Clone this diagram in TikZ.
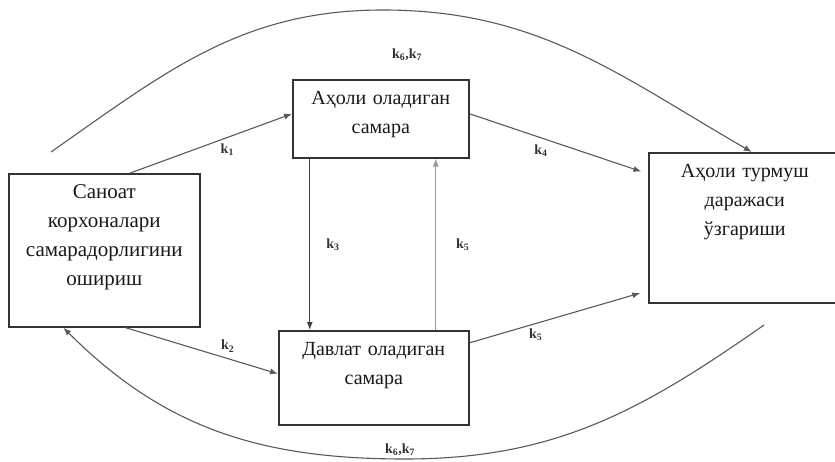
\documentclass[tikz,border=0pt]{standalone}
\usepackage{fontspec}
\setmainfont{Liberation Serif}
\usetikzlibrary{arrows.meta,positioning}
\tikzstyle{block}=[
	rectangle,
	draw=black!80,
	line width=1.6pt,
	align=center,
	anchor=north west,
	inner xsep=4pt,
	inner ysep=8pt,
	text height=17pt,
	text=black!90,
	font=\fontsize{20}{29}\selectfont
]
\tikzstyle{flow}=[
	-{Latex[length=8pt,width=6pt]},
	draw=black!65,
	line width=1.1pt
]
\tikzstyle{coef}=[
	inner sep=2pt,
	text=black!80,
	font=\fontsize{14}{14}\selectfont\bfseries
]

\begin{document}
\begin{tikzpicture}[x=1pt,y=1pt]
\useasboundingbox (0,0) rectangle (835,461);
\node [block, text width=183pt, text depth=120pt, font=\fontsize{21}{29}\selectfont] (Enterprise) at (8,288) {Саноат\\корхоналари\\самарадорлигини\\ошириш};
\node [block, text width=168pt, text depth=45pt] (PopulationGain) at (292,382) {Аҳоли оладиган\\самара};
\node [block, text width=182pt, text depth=61pt] (StateGain) at (278,131) {Давлат оладиган\\самара};
\node [block, text width=184pt, text depth=117pt] (LivingStandard) at (648,309) {Аҳоли турмуш\\даражаси\\ўзгариши};
\coordinate (TopStart) at (51,309);
\coordinate (TopPeak) at (383,451);
\coordinate (BottomStart) at (764,136);
\coordinate (BottomDip) at (405,2);

\draw [flow] ([xshift=26pt]Enterprise.north) -- ([yshift=5pt]PopulationGain.west)
	node [coef, pos=0.6, below=4pt] {k\textsubscript{1}};
\draw [flow] ([xshift=21pt]Enterprise.south) -- ([yshift=4pt]StateGain.west)
	node [coef, pos=0.67, above=4pt] {k\textsubscript{2}};
\draw [flow, draw=black!75] ([xshift=-71pt]PopulationGain.south) -- ([xshift=-64pt]StateGain.north)
	node [coef, midway, right=14pt] {k\textsubscript{3}};
\draw [flow, draw=black!40, line width=0.8pt] ([xshift=62pt]StateGain.north) -- ([xshift=55pt]PopulationGain.south)
	node [coef, midway, right=18pt] {k\textsubscript{5}};
\draw [flow, shorten >=7pt] ([yshift=5pt]PopulationGain.east) -- ([yshift=54pt]LivingStandard.west)
	node [coef, pos=0.4, below=4pt] {k\textsubscript{4}};
\draw [flow, shorten >=8pt] ([yshift=35pt]StateGain.east) -- ([yshift=-63pt]LivingStandard.west)
	node [coef, pos=0.37, below=3pt] {k\textsubscript{5}};
\draw [flow] (TopStart) to[out=35,in=180] (TopPeak)
	node [coef, below=36pt, xshift=24pt] {k\textsubscript{6},k\textsubscript{7}}
	to[out=0,in=150] ([xshift=7pt]LivingStandard.north);
\draw [flow] (BottomStart) to[out=-145,in=0] (BottomDip)
	node [coef, above=1pt, xshift=-5pt] {k\textsubscript{6},k\textsubscript{7}}
	to[out=180,in=-45] ([xshift=-41pt]Enterprise.south);
\end{tikzpicture}
\end{document}
